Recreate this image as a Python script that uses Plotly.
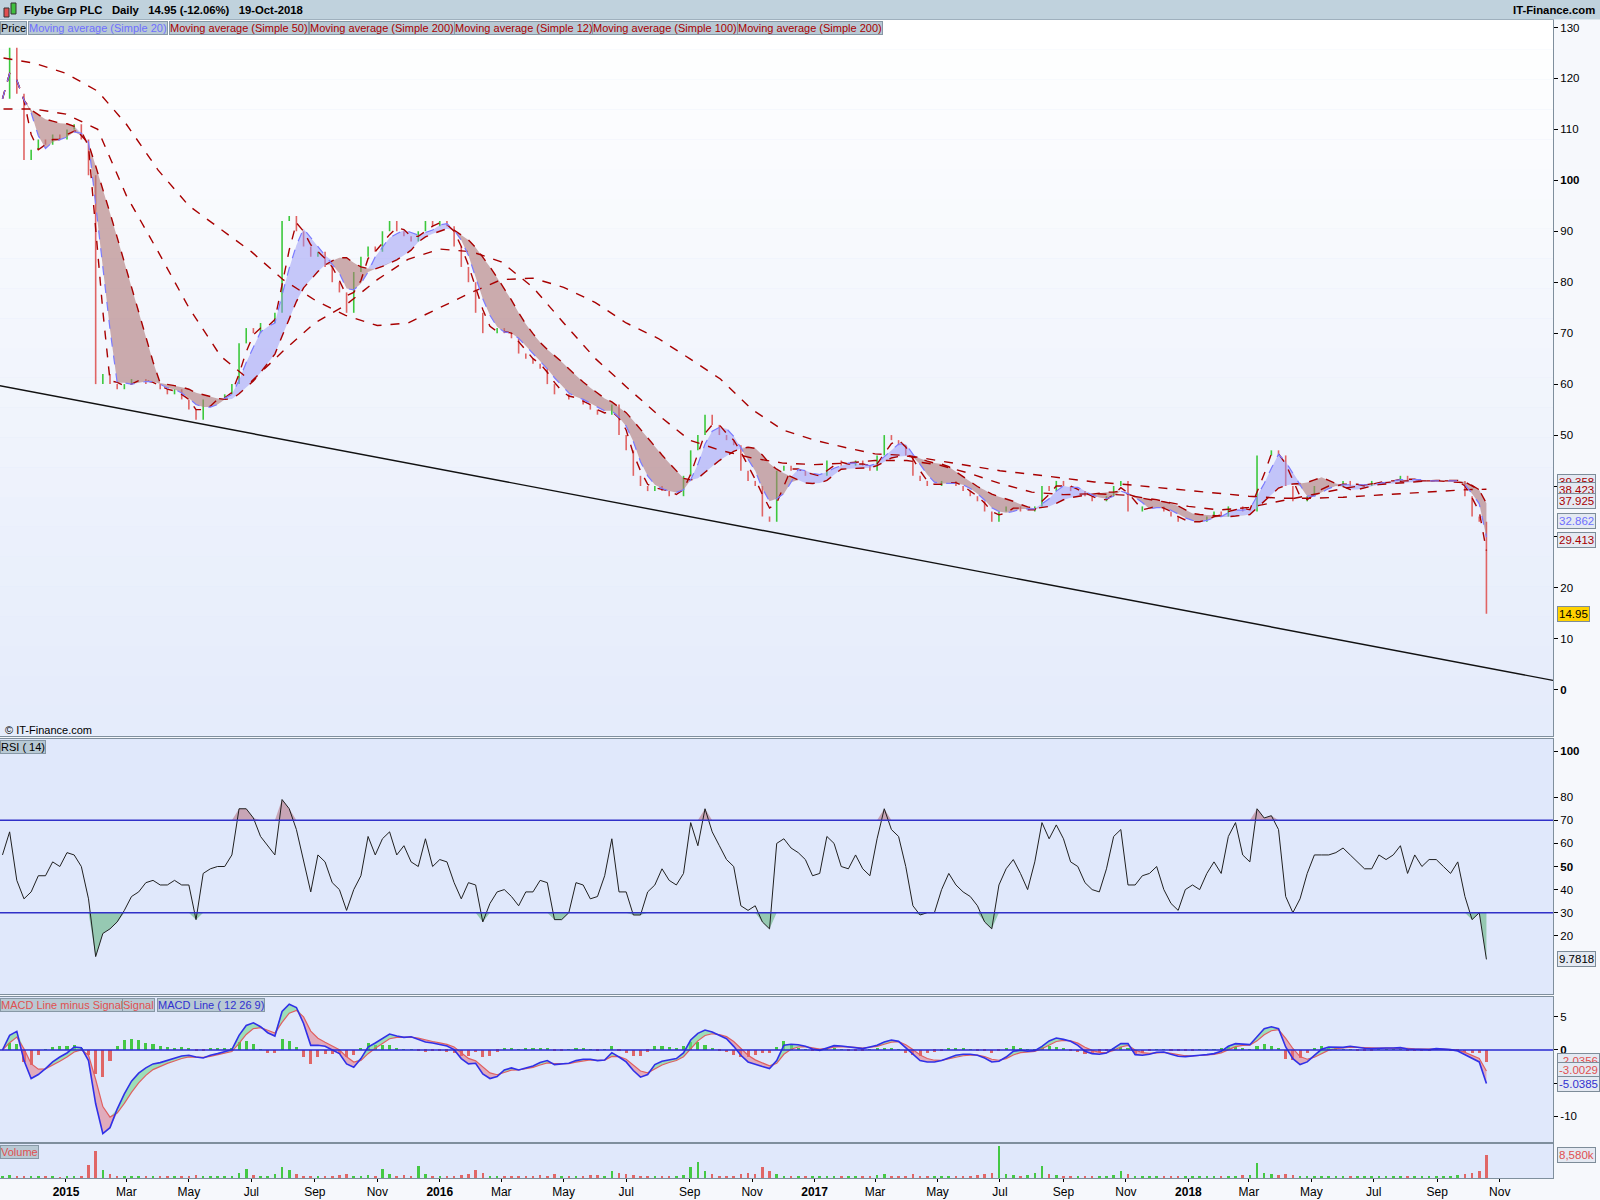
import numpy as np
import pandas as pd
import plotly.graph_objects as go
from plotly.subplots import make_subplots

# weekly samples (Friday values)
first_week = "2014-10-31"

closes = [116, 126, 117, 104, 106, 108, 107, 109, 108, 110,
          111, 108, 101, 60, 62, 60, 59, 60, 61, 61,
          60, 60, 59, 58, 59, 57, 55, 53, 57, 57,
          57, 58, 60, 68, 71, 70, 72, 72, 74, 92,
          93, 90, 87, 85, 86, 83, 80, 78, 74, 82,
          85, 87, 86, 90, 92, 90, 89, 88, 90, 92,
          91, 92, 91, 87, 83, 80, 74, 70, 70, 71,
          70, 69, 66, 65, 64, 63, 60, 58, 58, 57,
          57, 56, 55, 54, 54, 56, 50, 47, 42, 40,
          39, 40, 39, 38, 38, 42, 47, 50, 54, 52,
          50, 49, 48, 43, 41, 40, 34, 33, 43, 44,
          43, 43, 42, 42, 42, 45, 45, 44, 44, 45,
          44, 43, 46, 50, 49, 48, 46, 42, 41, 40,
          40, 41, 41, 40, 39, 38, 37, 35, 33, 35,
          36, 36, 35, 35, 36, 40, 39, 41, 40, 39,
          39, 38, 37, 37, 38, 40, 41, 35, 35, 36,
          36, 36, 35, 34, 33, 33, 33, 33, 34, 35,
          34, 36, 36, 35, 35, 46, 46, 47, 46, 40,
          37, 37, 38, 40, 40, 40, 40, 41, 40, 40,
          40, 41, 41, 41, 41, 42, 41, 41, 41, 41,
          41, 41, 41, 41, 38, 34, 33, 14.95]

rsi_14 = [55, 65, 44, 36, 39, 46, 46, 52, 50, 56,
          55, 50, 36, 11, 21, 23, 26, 31, 37, 39,
          43, 44, 42, 42, 44, 42, 42, 27, 47, 49,
          50, 50, 55, 75, 75, 71, 63, 59, 55, 79,
          75, 66, 52, 39, 55, 52, 43, 40, 31, 40,
          46, 63, 55, 62, 65, 55, 59, 52, 50, 62,
          50, 53, 52, 43, 36, 43, 42, 26, 34, 39,
          40, 37, 33, 39, 39, 44, 43, 27, 27, 30,
          43, 42, 36, 37, 46, 62, 39, 39, 29, 29,
          39, 42, 49, 44, 42, 47, 69, 59, 75, 65,
          59, 53, 50, 33, 31, 33, 26, 23, 60, 62,
          58, 56, 53, 46, 47, 63, 60, 50, 49, 55,
          49, 46, 62, 75, 66, 63, 50, 33, 29, 30,
          30, 40, 47, 42, 39, 37, 33, 26, 23, 42,
          49, 53, 47, 40, 52, 69, 62, 68, 62, 52,
          50, 43, 40, 39, 49, 63, 66, 42, 42, 46,
          47, 50, 40, 34, 31, 40, 42, 40, 47, 52,
          47, 63, 69, 55, 52, 75, 71, 72, 66, 37,
          30, 36, 47, 55, 55, 55, 56, 58, 55, 52,
          49, 49, 55, 53, 55, 59, 47, 55, 50, 53,
          53, 50, 47, 52, 37, 27, 30, 9.78]

macd_line = [0.0, 2.2, 2.8, -1.6, -4.3, -3.7, -2.8, -1.8, -1.06, -0.45,
             0.45, 0.35, -1.6, -8.1, -12.6, -11.7, -8.9, -6.6, -4.7, -3.5,
             -2.7, -2.1, -1.9, -1.6, -1.3, -0.9, -0.8, -1.06, -1.2, -0.8,
             -0.55, -0.3, 0.05, 2.2, 3.7, 4.1, 3.5, 2.6, 2.1, 5.8,
             6.9, 6.4, 4.0, 0.7, 0.7, 0.55, 0.05, -0.55, -2.1, -2.6,
             -1.3, 0.45, 1.06, 1.7, 2.4, 2.1, 1.9, 2.0, 1.6, 1.2,
             1.06, 0.86, 0.6, 0.05, -1.3, -2.1, -2.0, -3.6, -4.3, -4.0,
             -3.0, -2.7, -3.0, -2.7, -2.4, -1.9, -1.6, -2.2, -2.1, -2.0,
             -1.6, -1.4, -1.4, -1.6, -1.5, -0.4, -1.06, -1.8, -3.1, -4.1,
             -3.7, -2.2, -1.7, -1.5, -1.3, -0.45, 1.5, 2.5, 3.0, 2.7,
             2.2, 1.7, 0.55, -0.8, -1.8, -2.2, -2.5, -2.8, -1.6, 0.7,
             0.86, 0.8, 0.55, 0.15, -0.05, 0.3, 0.65, 0.6, 0.45, 0.3,
             0.2, 0.45, 0.7, 1.2, 1.5, 1.3, 0.35, -0.65, -1.6, -1.8,
             -1.8, -1.6, -1.2, -0.8, -0.65, -0.65, -0.8, -1.2, -1.8, -1.7,
             -1.06, -0.2, -0.05, -0.2, -0.1, 0.55, 1.36, 1.8, 1.6, 1.3,
             0.7, -0.2, -0.55, -0.65, -0.45, 0.3, 0.95, 0.95, -0.7, -0.8,
             -0.65, -0.35, -0.3, -0.65, -0.95, -1.0, -0.95, -0.8, -0.7, -0.55,
             -0.2, 0.55, 0.95, 0.86, 0.8, 2.0, 3.2, 3.5, 3.2, 0.45,
             -1.3, -2.2, -1.8, -0.8, 0.1, 0.45, 0.4, 0.4, 0.55, 0.35,
             0.25, 0.2, 0.3, 0.3, 0.3, 0.35, 0.15, 0.1, 0.1, 0.05,
             0.2, 0.15, 0.05, -0.15, -0.7, -1.2, -1.8, -5.04]

volume_k = [800, 1200, 900, 700, 500, 600, 400, 500, 300, 600,
            500, 700, 5000, 10000, 3000, 1500, 900, 700, 600, 500,
            600, 500, 700, 600, 500, 800, 900, 1200, 700, 500,
            600, 500, 900, 2000, 3500, 1200, 900, 800, 1500, 4000,
            3000, 1500, 900, 800, 700, 900, 800, 1000, 1500, 900,
            800, 1200, 900, 3500, 1500, 800, 1200, 900, 4500, 1500,
            800, 600, 700, 900, 1100, 1500, 3000, 2000, 900, 800,
            700, 900, 800, 700, 900, 1000, 800, 1500, 900, 700,
            800, 900, 1000, 1200, 900, 2500, 1800, 1500, 1300, 900,
            700, 800, 600, 700, 900, 1200, 4000, 6000, 2500, 1500,
            900, 800, 900, 1500, 1800, 1500, 4000, 2500, 1500, 900,
            800, 700, 600, 500, 600, 700, 600, 700, 800, 600,
            700, 800, 1200, 1500, 900, 800, 900, 1500, 900, 800,
            700, 800, 900, 700, 800, 900, 1000, 1500, 2000, 12000,
            1500, 1000, 900, 1200, 1800, 4500, 1500, 1000, 900, 800,
            800, 900, 800, 700, 900, 1200, 2500, 1500, 900, 800,
            700, 800, 700, 900, 800, 600, 700, 900, 800, 900,
            700, 800, 900, 1000, 1200, 5500, 2000, 1500, 1000, 1500,
            1200, 900, 800, 700, 800, 700, 600, 700, 800, 700,
            600, 700, 600, 500, 700, 600, 700, 600, 700, 600,
            700, 800, 900, 1200, 1500, 2000, 2500, 8580]

# slow averages, monthly (their history starts before the chart)
long_ma_start = "2014-11-01"
sma200 = [124, 123, 121, 117.5, 111, 102, 95, 90.5, 86, 80.5, 76.5, 73.5,
          71.5, 72, 75, 78, 80.5, 80.8, 79, 76, 72, 69, 65, 61,
          55, 51, 49, 47.5, 46.3, 46, 45, 44, 43, 42.3, 41.5, 40.8,
          40.3, 39.7, 39.2, 38.5, 38, 37.6, 37.6, 37.8, 38.2, 38.6, 39.0, 39.3,
          39.36]
sma100 = [114, 114, 113, 110, 97, 86, 75, 65.5, 60.5, 66.5, 72, 75.5,
          80.5, 84.5, 86.5, 86, 84, 79, 72, 65, 59.5, 54, 49, 47,
          45.5, 44.5, 44.2, 44.5, 45, 45, 44.2, 42.5, 40.5, 38.8, 38.3, 38.5,
          38.2, 37.3, 36, 35.3, 35.8, 37, 38.3, 39.5, 40.5, 41, 41, 40.6,
          38.42]

# user drawn lines
resistance, resistance_from = 94.95, "2015-02-15"
upper_band, upper_band_from = 43.1, "2016-11-16"
support, support_from = 33.3, "2016-08-03"
trend_x = ["2014-10-28", "2018-12-23"]
trend_y = [59.7, 1.85]

x_range = ["2014-10-28 14:00", "2018-12-23"]

FONT = "Liberation Sans, Arial, sans-serif"
DARKRED = "#a80000"

dates = pd.date_range(first_week, periods=len(closes), freq="7D")
long_dates = list(pd.date_range(long_ma_start, periods=len(sma200) - 1, freq="MS")) + [dates[-1]]

close_s = pd.Series(closes, dtype=float)
opens = [closes[0]] + closes[:-1]
highs = np.maximum(opens, closes)
lows = np.minimum(opens, closes)
ma12 = close_s.rolling(3, min_periods=1).mean()   # weekly windows
ma20 = close_s.rolling(4, min_periods=1).mean()
ma50 = close_s.rolling(10, min_periods=1).mean()

rsi = np.array(rsi_14, dtype=float)
macd = pd.Series(macd_line, dtype=float)
signal = macd.ewm(span=3, adjust=False).mean()
hist = macd - signal

# pixel helpers (plot area 0..1553 x 20..1178)
W, TOP, BOT = 1553.0, 20.0, 1178.0
def fx(px):
    return px / W
def fy(py):
    return (BOT - py) / (BOT - TOP)

fig = make_subplots(rows=4, cols=1, shared_xaxes=True, vertical_spacing=0.002)

def no_hover(**kw):
    return dict(hoverinfo="skip", showlegend=False, **kw)

# --- price panel
fig.add_trace(go.Scatter(x=dates, y=ma50, line=dict(width=0), **no_hover()), 1, 1)
fig.add_trace(go.Scatter(x=dates, y=np.maximum(ma20, ma50), fill="tonexty",
                         fillcolor="rgba(150,150,245,0.5)", line=dict(width=0), **no_hover()), 1, 1)
fig.add_trace(go.Scatter(x=dates, y=ma50, line=dict(width=0), **no_hover()), 1, 1)
fig.add_trace(go.Scatter(x=dates, y=np.minimum(ma20, ma50), fill="tonexty",
                         fillcolor="rgba(175,120,120,0.6)", line=dict(width=0), **no_hover()), 1, 1)
fig.add_trace(go.Ohlc(x=dates, open=opens, high=highs, low=lows, close=closes, tickwidth=0,
                      increasing=dict(line=dict(color="#3cc83c", width=1.6)),
                      decreasing=dict(line=dict(color="#e06464", width=1.6)),
                      hoverinfo="skip", showlegend=False), 1, 1)
for xs, ys in [(long_dates, sma200), (long_dates, sma100), (dates, ma50), (dates, ma12)]:
    fig.add_trace(go.Scatter(x=xs, y=ys, mode="lines",
                             line=dict(color=DARKRED, width=1.4, dash="dash"), **no_hover()), 1, 1)
fig.add_trace(go.Scatter(x=dates, y=ma20, mode="lines",
                         line=dict(color="#7b7bff", width=1.2, dash="dash"), **no_hover()), 1, 1)

# --- RSI panel
fig.add_trace(go.Scatter(x=dates, y=np.full(len(rsi), 70.0), line=dict(width=0), **no_hover()), 2, 1)
fig.add_trace(go.Scatter(x=dates, y=np.maximum(rsi, 70), fill="tonexty",
                         fillcolor="rgba(180,110,125,0.55)", line=dict(width=0), **no_hover()), 2, 1)
fig.add_trace(go.Scatter(x=dates, y=np.full(len(rsi), 30.0), line=dict(width=0), **no_hover()), 2, 1)
fig.add_trace(go.Scatter(x=dates, y=np.minimum(rsi, 30), fill="tonexty",
                         fillcolor="rgba(100,180,130,0.6)", line=dict(width=0), **no_hover()), 2, 1)
fig.add_trace(go.Scatter(x=dates, y=rsi, mode="lines", line=dict(color="#202020", width=1), **no_hover()), 2, 1)
for lvl in (70, 30):
    fig.add_hline(y=lvl, line=dict(color="#3030c8", width=1.5), row=2, col=1)

# --- MACD panel
fig.add_trace(go.Bar(x=dates, y=hist, width=3 * 86400000,
                     marker=dict(color=np.where(hist >= 0, "#44c844", "#e06666"), line=dict(width=0)),
                     **no_hover()), 3, 1)
fig.add_trace(go.Scatter(x=dates, y=signal, line=dict(width=0), **no_hover()), 3, 1)
fig.add_trace(go.Scatter(x=dates, y=np.maximum(macd, signal), fill="tonexty",
                         fillcolor="rgba(110,215,140,0.6)", line=dict(width=0), **no_hover()), 3, 1)
fig.add_trace(go.Scatter(x=dates, y=signal, line=dict(width=0), **no_hover()), 3, 1)
fig.add_trace(go.Scatter(x=dates, y=np.minimum(macd, signal), fill="tonexty",
                         fillcolor="rgba(225,110,125,0.5)", line=dict(width=0), **no_hover()), 3, 1)
fig.add_hline(y=0, line=dict(color="#2828d0", width=1.5), row=3, col=1)
fig.add_trace(go.Scatter(x=dates, y=signal, mode="lines", line=dict(color="#e06060", width=1.2), **no_hover()), 3, 1)
fig.add_trace(go.Scatter(x=dates, y=macd, mode="lines", line=dict(color="#3030e8", width=1.6), **no_hover()), 3, 1)

# --- volume panel
up = np.array(closes) >= np.array(opens)
fig.add_trace(go.Bar(x=dates, y=volume_k, width=2.5 * 86400000,
                     marker=dict(color=np.where(up, "#44c844", "#e06666"), line=dict(width=0)),
                     **no_hover()), 4, 1)

# drawn lines on the price panel
shapes = []
for y0, start, w in [(resistance, resistance_from, 1.2), (upper_band, upper_band_from, 1.2),
                     (support, support_from, 2.6)]:
    shapes.append(dict(type="line", xref="x", yref="y", x0=start, x1=x_range[1], y0=y0, y1=y0,
                       line=dict(color="#ff0000", width=w)))
shapes.append(dict(type="line", xref="x", yref="y", x0=trend_x[0], x1=trend_x[1],
                   y0=trend_y[0], y1=trend_y[1], line=dict(color="#111111", width=1.4)))

# soft vertical gradient behind the price panel
p0, p1 = fy(735.5), 1.0
steps = 24
for k in range(steps):
    t = k / (steps - 1)
    r = int(229 + (255 - 229) * t)
    g = int(236 + (255 - 236) * t)
    b = int(251 + (255 - 251) * t)
    shapes.append(dict(type="rect", xref="paper", yref="paper", x0=0, x1=1,
                       y0=p0 + (p1 - p0) * k / steps, y1=p0 + (p1 - p0) * (k + 1) / steps,
                       fillcolor=f"rgb({r},{g},{b})", line=dict(width=0), layer="below"))

# header bar and icon
shapes.append(dict(type="rect", xref="paper", yref="paper", x0=0, x1=fx(1600), y0=fy(19.5), y1=fy(0),
                   fillcolor="#c0d2dd", line=dict(width=0)))
shapes.append(dict(type="rect", xref="paper", yref="paper", x0=fx(4), x1=fx(9), y0=fy(17), y1=fy(8),
                   fillcolor="#e05050", line=dict(color="#333333", width=1)))
shapes.append(dict(type="rect", xref="paper", yref="paper", x0=fx(11), x1=fx(16), y0=fy(14), y1=fy(3),
                   fillcolor="#40c040", line=dict(color="#333333", width=1)))

ann = []
def add_text(text, px, py, color="black", size=12, xanchor="left", yanchor="middle", **kw):
    ann.append(dict(text=text, x=fx(px), y=fy(py), xref="paper", yref="paper", xanchor=xanchor,
                    yanchor=yanchor, showarrow=False, font=dict(family=FONT, size=size, color=color), **kw))

def add_box(text, px, py, color):
    add_text(text, px, py, color=color, size=11, yanchor="top", bgcolor="#b8c9d4",
             bordercolor="#8798a6", borderwidth=1, borderpad=0)

add_text("<b>Flybe Grp PLC&nbsp;&nbsp;&nbsp;Daily&nbsp;&nbsp;&nbsp;14.95 (-12.06%)&nbsp;&nbsp;&nbsp;19-Oct-2018</b>",
         22, 10, size=11.3)
add_text("<b>IT-Finance.com</b>", 1597, 10, xanchor="right", size=11.3)

legend_items = [("Price", "black", 0), ("Moving average (Simple 20)", "#6f6fff", 28),
                ("Moving average (Simple 50)", DARKRED, 169), ("Moving average (Simple 200)", DARKRED, 309),
                ("Moving average (Simple 12)", DARKRED, 454), ("Moving average (Simple 100)", DARKRED, 592),
                ("Moving average (Simple 200)", DARKRED, 737)]
for text, color, px in legend_items:
    add_box(text, px, 21, color)
add_box("RSI ( 14)", 0, 740, "black")
add_box("MACD Line minus Signal", 0, 998, "#e05050")
add_box("Signal", 122, 998, "#e05050")
add_box("MACD Line ( 12 26 9)", 157, 998, "#3030d0")
add_box("Volume", 0, 1145, "#e05050")
add_text("© IT-Finance.com", 3, 730, size=11)

# last value labels on the right scale
right_labels = [("y", 39.358, "39.358", DARKRED, "#e4e9f2", 7),
                ("y", 38.423, "38.423", DARKRED, "#e4e9f2", 4),
                ("y", 37.925, "37.925", DARKRED, "#e4e9f2", -4),
                ("y", 32.862, "32.862", "#6f6fff", "#e4e9f2", 1),
                ("y", 29.413, "29.413", DARKRED, "#e4e9f2", 0),
                ("y", 14.95, "14.95", "black", "#ffd200", 0),
                ("y2", 9.7818, "9.7818", "black", "#e4e9f2", 0),
                ("y3", -2.0356, "-2.0356", "#e05050", "#e4e9f2", 3),
                ("y3", -3.0029, "-3.0029", "#e05050", "#e4e9f2", 0),
                ("y3", -5.0385, "-5.0385", "#3030d0", "#e4e9f2", -1),
                ("y4", 8580, "8,580k", "#e05050", "#e4e9f2", 0)]
for yref, yv, text, color, bg, shift in right_labels:
    ann.append(dict(text=text, x=fx(1557), y=yv, xref="paper", yref=yref, xanchor="left",
                    yanchor="middle", yshift=shift, showarrow=False,
                    font=dict(family=FONT, size=11.5, color=color), bgcolor=bg,
                    bordercolor="#7d8c99", borderwidth=1, borderpad=1))

month_ticks = pd.date_range("2015-01-01", "2018-11-01", freq="2MS")
month_text = [f"<b>{d.year}</b>" if d.month == 1 else d.strftime("%b") for d in month_ticks]

fig.update_layout(
    width=1600, height=1200,
    margin=dict(l=0, r=47, t=20, b=22, autoexpand=False),
    paper_bgcolor="#f6f8fc", plot_bgcolor="#e0e8fb",
    font=dict(family=FONT, size=12, color="black"),
    showlegend=False, bargap=0, shapes=shapes, annotations=ann,
)
frame = dict(showline=True, mirror=True, linecolor="#7f8f9d", linewidth=1, showgrid=False,
             zeroline=False, automargin=False)
fig.update_xaxes(range=x_range, rangeslider_visible=False, showticklabels=False, ticks="", **frame)
fig.update_xaxes(row=4, col=1, showticklabels=True, ticks="outside", ticklen=3, tickcolor="black",
                 tickvals=month_ticks, ticktext=month_text, tickfont=dict(size=12))
fig.update_yaxes(side="right", ticks="outside", ticklen=4, tickcolor="black",
                 tickfont=dict(size=11.5), **frame)

price_ticks = list(range(0, 131, 10))
fig.update_yaxes(row=1, col=1, domain=[fy(735.5), 1.0], range=[-8.97, 131.47], tickvals=price_ticks,
                 ticktext=[f"<b>{v}</b>" if v in (0, 100) else str(v) for v in price_ticks])
rsi_ticks = [20, 30, 40, 50, 60, 70, 80, 100]
fig.update_yaxes(row=2, col=1, domain=[fy(994), fy(739)], range=[-5.2, 105.2], tickvals=rsi_ticks,
                 ticktext=[f"<b>{v}</b>" if v in (50, 100) else str(v) for v in rsi_ticks])
fig.update_yaxes(row=3, col=1, domain=[fy(1142), fy(997)], range=[-13.86, 7.98],
                 tickvals=[5, 0, -5, -10], ticktext=["5", "<b>0</b>", "-5", "-10"])
fig.update_yaxes(row=4, col=1, domain=[0, fy(1144)], range=[0, 12700], showticklabels=False, ticks="")
fig.update_xaxes(row=1, col=1, domain=[0, 1])

# the page body has a default 8px margin; drop it so the figure sits at the window corner
fig.write_html("out.html", config={"displayModeBar": False},
               post_script="document.body.style.margin='0px';")
